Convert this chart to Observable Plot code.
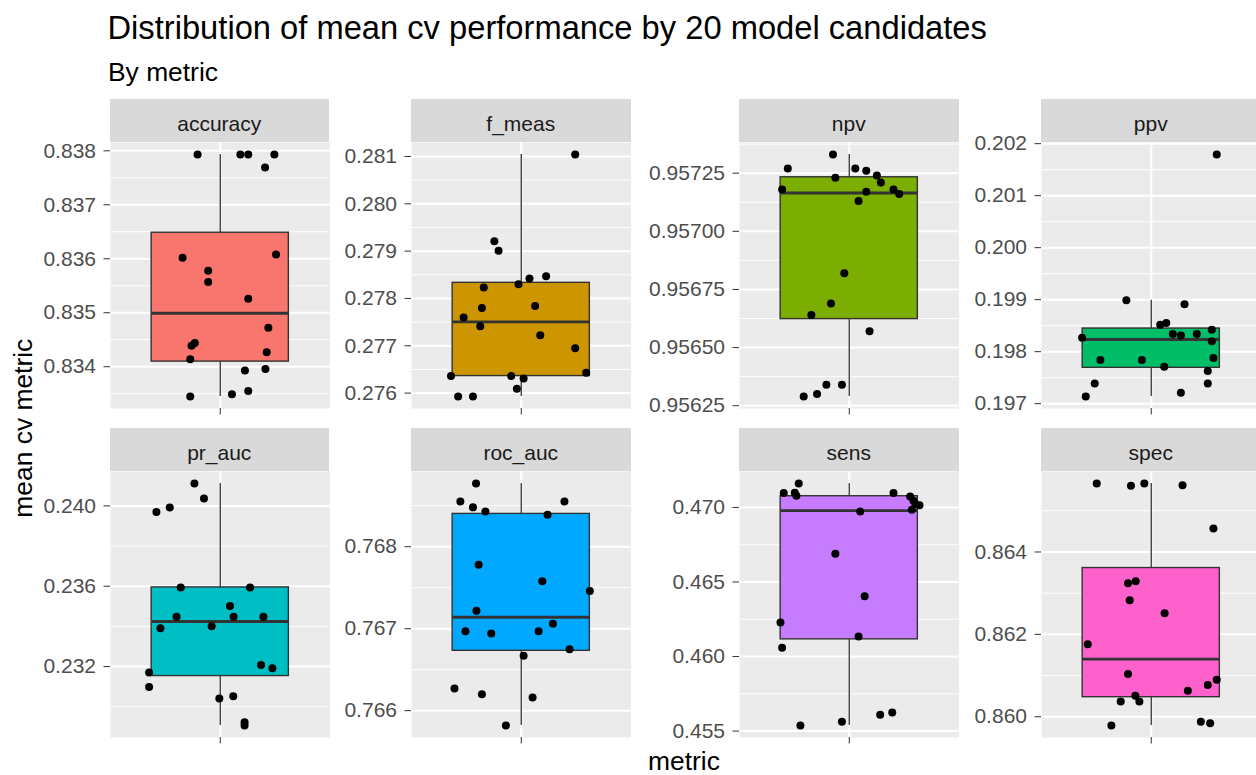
<!DOCTYPE html>
<html><head><meta charset="utf-8">
<script src="https://cdn.jsdelivr.net/npm/d3@7"></script>
<script src="https://cdn.jsdelivr.net/npm/@observablehq/plot@0.6"></script>
<style>
html,body{margin:0;padding:0;background:#fff;}
#root{position:relative;width:1256px;height:775px;overflow:hidden;font-family:"Liberation Sans",Arial,sans-serif;background:#fff;}
.t{position:absolute;white-space:nowrap;line-height:1;}
.strip{position:absolute;background:#D9D9D9;}
.strip span{position:absolute;left:0;width:100%;text-align:center;line-height:1;font-size:21px;color:#1A1A1A;white-space:nowrap;}
.pp{position:absolute;}
.pp svg{overflow:visible;}
</style></head><body><div id="root"></div>
<script>
// ---------- data ----------
const metrics = ["accuracy","f_meas","npv","ppv","pr_auc","roc_auc","sens","spec"];
const boxColors = ["#F8766D","#CD9600","#7CAE00","#00BE67","#00BFC4","#00A9FF","#C77CFF","#FF61CC"];

const accuracyValues = [0.83793,0.83793,0.83793,0.83793,0.83769,0.83602,0.83608,0.83578,0.83557,0.83526,0.83472,0.83444,0.83439,0.83427,0.83414,0.83393,0.83396,0.83349,0.83355,0.83345];
const accuracyJitter = [-0.124,0.110,0.153,0.296,0.245,-0.206,0.305,-0.066,-0.066,0.153,0.263,-0.139,-0.157,0.254,-0.164,0.135,0.247,0.064,0.153,-0.164];

const fMeasValues = [0.28104,0.27921,0.27901,0.27823,0.27830,0.27842,0.27847,0.27780,0.27784,0.27760,0.27741,0.27722,0.27695,0.27636,0.27636,0.27631,0.27643,0.27609,0.27593,0.27593];
const fMeasJitter = [0.295,-0.147,-0.124,-0.205,-0.015,0.045,0.136,-0.215,0.076,-0.315,-0.224,0.104,0.295,-0.384,-0.055,0.013,0.355,-0.024,-0.345,-0.264];

const npvValues = [0.95733,0.95727,0.95727,0.95726,0.95723,0.95724,0.95721,0.95718,0.95718,0.95716,0.95717,0.95713,0.95682,0.95669,0.95664,0.95657,0.95634,0.95634,0.95630,0.95629];
const npvJitter = [-0.089,-0.336,0.033,0.093,-0.076,0.151,0.173,-0.367,0.242,0.273,0.093,0.051,-0.027,-0.100,-0.207,0.111,-0.040,-0.125,-0.176,-0.249];

const ppvValues = [0.20179,0.19899,0.19891,0.19852,0.19855,0.19834,0.19831,0.19834,0.19842,0.19827,0.19820,0.19784,0.19784,0.19788,0.19771,0.19763,0.19739,0.19739,0.19721,0.19714];
const ppvJitter = [0.358,-0.136,0.182,0.049,0.082,0.118,0.162,0.249,0.331,-0.378,0.331,-0.278,-0.051,0.340,0.071,0.309,-0.309,0.309,0.162,-0.358];

const prAucValues = [0.24111,0.24037,0.23970,0.23992,0.23594,0.23594,0.23502,0.23448,0.23448,0.23448,0.23391,0.23401,0.23208,0.23192,0.23171,0.23098,0.23041,0.23052,0.22923,0.22907];
const prAucJitter = [-0.141,-0.089,-0.349,-0.276,-0.216,0.163,0.053,-0.239,0.073,0.236,-0.327,-0.047,0.223,0.285,-0.389,-0.389,-0.005,0.071,0.133,0.133];

const rocAucValues = [0.76877,0.76855,0.76848,0.76843,0.76855,0.76839,0.76778,0.76758,0.76746,0.76722,0.76706,0.76697,0.76694,0.76697,0.76675,0.76667,0.76627,0.76620,0.76616,0.76582];
const rocAucJitter = [-0.247,-0.333,-0.264,-0.196,0.236,0.144,-0.233,0.115,0.375,-0.245,0.173,-0.305,-0.164,0.095,0.264,0.013,-0.365,-0.215,0.062,-0.084];

const sensValues = [0.47160,0.47097,0.47099,0.47079,0.47097,0.47074,0.47045,0.47023,0.47014,0.46984,0.46973,0.46689,0.46405,0.46229,0.46059,0.46134,0.45538,0.45563,0.45610,0.45624];
const sensJitter = [-0.276,-0.358,-0.298,-0.289,0.242,0.333,0.351,0.362,0.384,0.342,0.060,-0.076,0.084,-0.376,-0.367,0.051,-0.267,-0.040,0.169,0.235];

const specValues = [0.86566,0.86561,0.86566,0.86562,0.86457,0.86324,0.86329,0.86283,0.86251,0.86176,0.86104,0.86090,0.86077,0.86063,0.86051,0.86037,0.86037,0.85979,0.85988,0.85984];
const specJitter = [-0.298,-0.111,-0.038,0.171,0.340,-0.127,-0.085,-0.118,0.073,-0.347,-0.127,0.358,0.309,0.200,-0.087,-0.167,-0.065,-0.218,0.271,0.322];

const accuracyTicks = ["0.834","0.835","0.836","0.837","0.838"];
const fMeasTicks = ["0.276","0.277","0.278","0.279","0.280","0.281"];
const npvTicks = ["0.95625","0.95650","0.95675","0.95700","0.95725"];
const ppvTicks = ["0.197","0.198","0.199","0.200","0.201","0.202"];
const prAucTicks = ["0.232","0.236","0.240"];
const rocAucTicks = ["0.766","0.767","0.768"];
const sensTicks = ["0.455","0.460","0.465","0.470"];
const specTicks = ["0.860","0.862","0.864"];

const titleText = "Distribution of mean cv performance by 20 model candidates";
const subtitleText = "By metric";
const xTitle = "metric";
const yTitle = "mean cv metric";

// ---------- layout ----------
const valuesBy = [accuracyValues,fMeasValues,npvValues,ppvValues,prAucValues,rocAucValues,sensValues,specValues];
const jitterBy = [accuracyJitter,fMeasJitter,npvJitter,ppvJitter,prAucJitter,rocAucJitter,sensJitter,specJitter];
const ticksBy = [accuracyTicks,fMeasTicks,npvTicks,ppvTicks,prAucTicks,rocAucTicks,sensTicks,specTicks];

const colLeft = [109.5, 411, 739, 1041];
const PW = 219.5;
const rows = [{stripTop: 98.5, stripH: 43.5, panelTop: 142, panelH: 266},
              {stripTop: 428, stripH: 42.5, panelTop: 470.5, panelH: 266}];
const ML = 110, MB = 14;

const root = document.getElementById("root");
function addText(txt, css) {
  const d = document.createElement("div");
  d.className = "t";
  d.textContent = txt;
  Object.assign(d.style, css);
  root.appendChild(d);
  return d;
}
// title / subtitle
addText(titleText, {left: "107.5px", top: (40 - 0.8465*32.7) + "px", fontSize: "32.7px", color: "#000"});
addText(subtitleText, {left: "108px", top: (81.7 - 0.8465*26.4) + "px", fontSize: "26.4px", color: "#000"});
// axis titles
addText(xTitle, {left: (684 - 150) + "px", width: "300px", textAlign: "center", top: (770.5 - 0.8465*26.4) + "px", fontSize: "26.4px", color: "#000"});
addText(yTitle, {left: (23 - 150) + "px", width: "300px", height: "26.4px", textAlign: "center", top: (428 - 13.2) + "px",
  fontSize: "26.4px", lineHeight: "26.4px", color: "#000", transform: "rotate(-90deg)", transformOrigin: "50% 50%"});

metrics.forEach((name, i) => {
  const r = rows[Math.floor(i / 4)];
  const left = colLeft[i % 4];
  // strip
  const s = document.createElement("div");
  s.className = "strip";
  Object.assign(s.style, {left: left + "px", top: r.stripTop + "px", width: PW + "px", height: r.stripH + "px"});
  const sp = document.createElement("span");
  sp.textContent = name;
  sp.style.top = (32 - 0.8465*21) + "px";
  s.appendChild(sp);
  root.appendChild(s);

  const values = valuesBy[i], jit = jitterBy[i], tickLabels = ticksBy[i];
  const data = values.map((v, k) => ({x: 1 + jit[k], y: v}));
  const sorted = values.slice().sort(d3.ascending);
  const q1 = d3.quantile(sorted, 0.25), med = d3.quantile(sorted, 0.5), q3 = d3.quantile(sorted, 0.75);
  const iqr = q3 - q1;
  const lo = d3.min(values.filter(v => v >= q1 - 1.5*iqr));
  const hi = d3.max(values.filter(v => v <= q3 + 1.5*iqr));
  const [mn, mx] = d3.extent(values);
  const pad = (mx - mn) * 0.05;
  const domain = [mn - pad, mx + pad];
  const ticks = tickLabels.map(Number);
  const labelMap = new Map(ticks.map((t, k) => [t, tickLabels[k]]));
  const step = ticks[1] - ticks[0];
  const minor = d3.range(-1, ticks.length + 1).map(k => ticks[0] - step/2 + k*step)
    .filter(v => v >= domain[0] && v <= domain[1]);

  const plot = Plot.plot({
    width: PW + ML, height: r.panelH + MB,
    marginLeft: ML, marginRight: 0, marginTop: 0, marginBottom: MB,
    x: {domain: [0.4, 1.6]},
    y: {domain},
    style: {background: "transparent", fontFamily: "Liberation Sans, Arial, sans-serif", fontSize: "21px", overflow: "visible"},
    marks: [
      Plot.frame({fill: "#EBEBEB", stroke: null}),
      Plot.ruleY(minor, {stroke: "#FFFFFF", strokeWidth: 1}),
      Plot.ruleY(ticks, {stroke: "#FFFFFF", strokeWidth: 2}),
      Plot.ruleX([1], {stroke: "#FFFFFF", strokeWidth: 2}),
      Plot.ruleX([[lo, q1], [q3, hi]], {x: () => 1, y1: d => d[0], y2: d => d[1], stroke: "#333333", strokeWidth: 1.3}),
      Plot.rect([{q1, q3}], {x1: () => 0.625, x2: () => 1.375, y1: "q1", y2: "q3", fill: boxColors[i], stroke: "#333333", strokeWidth: 1.4}),
      Plot.ruleY([med], {x1: () => 0.625, x2: () => 1.375, stroke: "#333333", strokeWidth: 2.9}),
      Plot.dot(data, {x: "x", y: "y", r: 4, fill: "#000000", stroke: null}),
      Plot.axisY({ticks, tickFormat: d => labelMap.get(d), tickSize: 6.5, tickPadding: 8, stroke: "#333333", fill: "#4D4D4D", fontSize: 21, label: null}),
      Plot.axisX({ticks: [1], tickFormat: () => "", tickSize: 6.5, stroke: "#333333", label: null})
    ]
  });
  const d = document.createElement("div");
  d.className = "pp";
  Object.assign(d.style, {left: (left - ML) + "px", top: r.panelTop + "px", width: (PW + ML) + "px"});
  d.appendChild(plot);
  root.appendChild(d);
});
</script></body></html>
